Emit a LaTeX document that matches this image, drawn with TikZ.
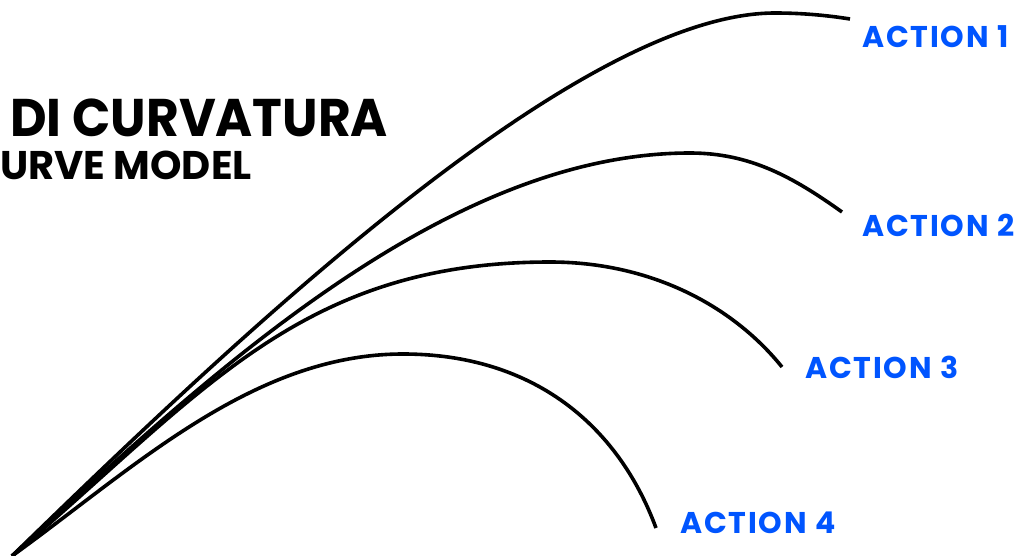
\documentclass[tikz,border=0pt]{standalone}
\usepackage{fontspec}
\setmainfont{Poppins}
\definecolor{actblue}{RGB}{0,85,255}
\begin{document}
\begin{tikzpicture}[x=1pt,y=-1pt,
  curve/.style={line width=3.6pt, black, line cap=butt},
  lab/.style={font=\fontsize{30}{30}\selectfont\bfseries\addfontfeature{LetterSpace=6}, text=actblue, anchor=base west, inner sep=0pt},
  titlebig/.style={font=\fontsize{53}{53}\selectfont\bfseries, anchor=base west, inner sep=0pt},
  titlesmall/.style={font=\fontsize{40}{40}\selectfont\bfseries, anchor=base west, inner sep=0pt}]
\useasboundingbox (0,0) rectangle (1014,556);
\fill[white] (0,0) rectangle (1014,556);
\coordinate (o) at (12,556);
\coordinate (m1) at (775,13);
\coordinate (e1) at (850,19);
\coordinate (m2) at (690,153);
\coordinate (e2) at (842,212);
\coordinate (m3) at (550,262);
\coordinate (e3) at (782,367);
\coordinate (m4) at (403,354);
\coordinate (e4) at (656,528);
\draw[curve] (o) .. controls (228,346) and (575,13) .. (m1) .. controls (800,13) and (825,15) .. (e1);
\draw[curve] (o) .. controls (197,386) and (440,153) .. (m2) .. controls (750,153) and (793,177) .. (e2);
\draw[curve] (o) .. controls (202,394) and (300,262) .. (m3) .. controls (650,262) and (732,305) .. (e3);
\draw[curve] (o) .. controls (134,468) and (253,354) .. (m4) .. controls (533,354) and (618,425) .. (e4);
\node[titlebig] (t1) at (10,137) {\scalebox{0.95}[1]{DI CURVATURA}};
\node[titlesmall] (t2) at (0,180) {URVE MODEL};
\node[lab] (a1) at (862,48) {ACTION 1};
\node[lab] (a2) at (862,236) {ACTION 2};
\node[lab] (a3) at (805,378) {ACTION 3};
\node[lab] (a4) at (680,533) {ACTION 4};
\end{tikzpicture}
\end{document}
